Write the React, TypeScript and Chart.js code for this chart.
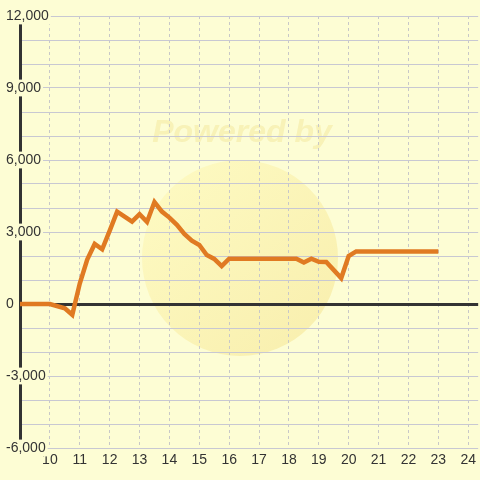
import { useEffect, useRef } from 'react';
import { Chart, registerables } from 'chart.js';

Chart.register(...registerables);

// Data (hour of day, value)
const hours = [9, 10, 10.5, 10.75, 11, 11.25, 11.5, 11.75, 12, 12.25, 12.5, 12.75, 13, 13.25, 13.5, 13.75, 14, 14.25, 14.5, 14.75, 15, 15.25, 15.5, 15.75, 16, 18.25, 18.5, 18.75, 19, 19.25, 19.75, 20, 20.25, 23];
const values = [0, 0, -180, -450, 850, 1850, 2500, 2280, 3050, 3850, 3640, 3430, 3740, 3420, 4250, 3850, 3600, 3300, 2920, 2640, 2460, 2040, 1880, 1580, 1890, 1890, 1730, 1890, 1760, 1750, 1080, 2000, 2190, 2190];

const xTicks = [10, 11, 12, 13, 14, 15, 16, 17, 18, 19, 20, 21, 22, 23, 24];
const yTicks = [-6000, -5000, -4000, -3000, -2000, -1000, 0, 1000, 2000, 3000, 4000, 5000, 6000, 7000, 8000, 9000, 10000, 11000, 12000];
const yLabelStep = 3000;

const BG = '#FDFDD4';
const FONT = '"Liberation Sans", Arial, sans-serif';

const bgPlugin = {
  id: 'bgWatermark',
  beforeDraw(chart: any) {
    const { ctx, width, height } = chart;
    ctx.save();
    ctx.fillStyle = BG;
    ctx.fillRect(0, 0, width, height);
    const cx = 240, cy = 258, r = 98;
    const g = ctx.createLinearGradient(cx - r, cy - r, cx + r, cy + r);
    g.addColorStop(0, 'rgba(255,248,175,0.45)');
    g.addColorStop(1, 'rgba(242,220,125,0.45)');
    ctx.fillStyle = g;
    ctx.beginPath();
    ctx.arc(cx, cy, r, 0, Math.PI * 2);
    ctx.fill();
    ctx.font = 'italic bold 32px ' + FONT;
    ctx.fillStyle = 'rgba(238,220,130,0.35)';
    ctx.textAlign = 'center';
    ctx.textBaseline = 'middle';
    ctx.fillText('Powered by', 242, 133);
    ctx.restore();
  },
};

export default function App() {
  const ref = useRef<HTMLCanvasElement>(null);
  useEffect(() => {
    document.body.style.margin = '0';
    document.body.style.background = BG;
    const chart = new Chart(ref.current!, {
      type: 'line',
      data: {
        datasets: [
          {
            data: hours.map((h, i) => ({ x: h, y: values[i] })),
            borderColor: '#E07A22',
            borderWidth: 4.5,
            pointRadius: 0,
            tension: 0,
            fill: false,
          },
        ],
      },
      options: {
        animation: false,
        responsive: false,
        layout: { padding: { top: 16, left: 0, right: 0, bottom: 0 } },
        plugins: { legend: { display: false }, tooltip: { enabled: false } },
        scales: {
          x: {
            type: 'linear',
            min: 9,
            max: 24.333,
            afterBuildTicks: (s: any) => {
              s.ticks = xTicks.map((v) => ({ value: v }));
            },
            afterFit: (s: any) => {
              s.height = 32;
            },
            grid: { color: 'rgb(200,200,200)', lineWidth: 1, drawTicks: false, z: -2, borderDash: [3, 3] } as any,
            border: { display: false, dash: [3, 3] },
            ticks: {
              color: '#333',
              font: { family: FONT, size: 14 },
              padding: 4,
              maxRotation: 0,
              autoSkip: false,
              callback: (v: any) => String(v),
            },
          },
          y: {
            type: 'linear',
            min: -6000,
            max: 12000,
            afterBuildTicks: (s: any) => {
              s.ticks = yTicks.map((v) => ({ value: v }));
            },
            afterFit: (s: any) => {
              s.width = 20;
            },
            grid: {
              color: (c: any) => (c.tick && c.tick.value === 0 ? '#333' : 'rgb(200,200,210)'),
              lineWidth: (c: any) => (c.tick && c.tick.value === 0 ? 3 : 1),
              drawTicks: false,
              z: -2,
            },
            border: { display: true, color: '#333', width: 3, z: -1 },
            ticks: {
              mirror: true,
              padding: -14,
              color: '#333',
              font: { family: FONT, size: 14 },
              autoSkip: false,
              z: 0,
              showLabelBackdrop: (c: any) => !!c.tick && c.tick.value % yLabelStep === 0,
              backdropColor: BG,
              backdropPadding: { left: 2, right: 2, top: 0, bottom: 0 },
              callback: (v: any) => (Number(v) % yLabelStep === 0 ? Number(v).toLocaleString('en-US') : ''),
            } as any,
          },
        },
      },
      plugins: [bgPlugin],
    });
    return () => chart.destroy();
  }, []);
  return (
    <div style={{ width: 480, height: 480, background: BG }}>
      <canvas ref={ref} width={480} height={480} style={{ display: 'block' }} />
    </div>
  );
}
